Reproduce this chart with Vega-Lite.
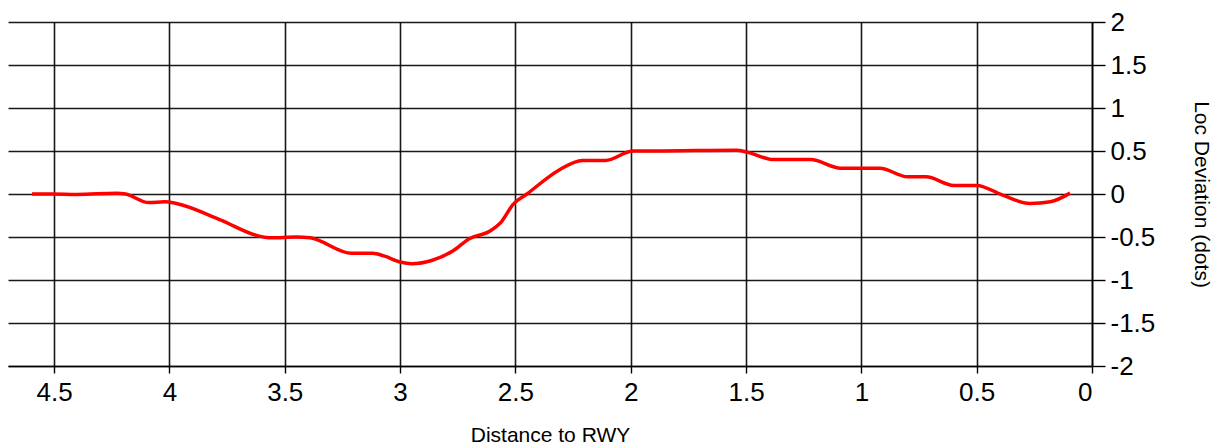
{
  "$schema": "https://vega.github.io/schema/vega-lite/v6.json",
  "autosize": "none",
  "width": 1084,
  "height": 344,
  "padding": {"left": 8, "top": 22, "right": 121, "bottom": 82},
  "background": "white",
  "view": {"stroke": null},
  "config": {
    "font": "Liberation Sans",
    "axis": {
      "grid": true,
      "gridColor": "#000000",
      "gridOpacity": 0.9,
      "gridWidth": 1.6,
      "domainColor": "#000000",
      "domainWidth": 1.6,
      "tickColor": "#000000",
      "tickWidth": 1.4,
      "labelColor": "#000000",
      "titleColor": "#000000",
      "labelFont": "Liberation Sans",
      "titleFont": "Liberation Sans",
      "titleFontWeight": "normal"
    }
  },
  "data": {
    "values": [
      {"d": 4.596, "dev": 0.0},
      {"d": 4.51, "dev": 0.0},
      {"d": 4.4, "dev": -0.005},
      {"d": 4.23, "dev": 0.01},
      {"d": 4.19, "dev": 0.0},
      {"d": 4.09, "dev": -0.1},
      {"d": 4.02, "dev": -0.09},
      {"d": 3.97, "dev": -0.11},
      {"d": 3.78, "dev": -0.3},
      {"d": 3.61, "dev": -0.49},
      {"d": 3.56, "dev": -0.51},
      {"d": 3.45, "dev": -0.5},
      {"d": 3.39, "dev": -0.51},
      {"d": 3.21, "dev": -0.69},
      {"d": 3.12, "dev": -0.69},
      {"d": 3.07, "dev": -0.72},
      {"d": 3.0, "dev": -0.79},
      {"d": 2.95, "dev": -0.81},
      {"d": 2.86, "dev": -0.77},
      {"d": 2.77, "dev": -0.66},
      {"d": 2.7, "dev": -0.52},
      {"d": 2.61, "dev": -0.43},
      {"d": 2.56, "dev": -0.32},
      {"d": 2.51, "dev": -0.12},
      {"d": 2.45, "dev": 0.0},
      {"d": 2.31, "dev": 0.28},
      {"d": 2.21, "dev": 0.39},
      {"d": 2.11, "dev": 0.39},
      {"d": 1.99, "dev": 0.5},
      {"d": 1.9, "dev": 0.5},
      {"d": 1.54, "dev": 0.51},
      {"d": 1.5, "dev": 0.49},
      {"d": 1.38, "dev": 0.4},
      {"d": 1.22, "dev": 0.4},
      {"d": 1.09, "dev": 0.3},
      {"d": 0.92, "dev": 0.3},
      {"d": 0.8, "dev": 0.2},
      {"d": 0.72, "dev": 0.2},
      {"d": 0.6, "dev": 0.1},
      {"d": 0.5, "dev": 0.1},
      {"d": 0.39, "dev": -0.01},
      {"d": 0.27, "dev": -0.11},
      {"d": 0.18, "dev": -0.09},
      {"d": 0.095, "dev": 0.01}
    ]
  },
  "mark": {"type": "line", "color": "#ff0000", "strokeWidth": 3.5, "interpolate": "monotone"},
  "encoding": {
    "x": {
      "field": "d",
      "type": "quantitative",
      "scale": {"domain": [0, 4.7], "reverse": true, "nice": false, "zero": false},
      "axis": {
        "orient": "bottom",
        "values": [0, 0.5, 1, 1.5, 2, 2.5, 3, 3.5, 4, 4.5],
        "format": "",
        "title": "Distance to RWY",
        "titleFontSize": 21,
        "labelFontSize": 26,
        "tickSize": 7,
        "labelPadding": 6,
        "titlePadding": 19
      }
    },
    "y": {
      "field": "dev",
      "type": "quantitative",
      "scale": {"domain": [-2, 2], "nice": false},
      "axis": {
        "orient": "right",
        "values": [-2, -1.5, -1, -0.5, 0, 0.5, 1, 1.5, 2],
        "labelExpr": "replace(format(datum.value, ''), '−', '-')",
        "title": "Loc Deviation (dots)",
        "titleFontSize": 21,
        "labelFontSize": 26,
        "tickSize": 13,
        "labelPadding": 5,
        "titleAngle": 90,
        "titleX": 108,
        "titleY": 172,
        "titleAlign": "center",
        "titleBaseline": "middle"
      }
    }
  }
}
